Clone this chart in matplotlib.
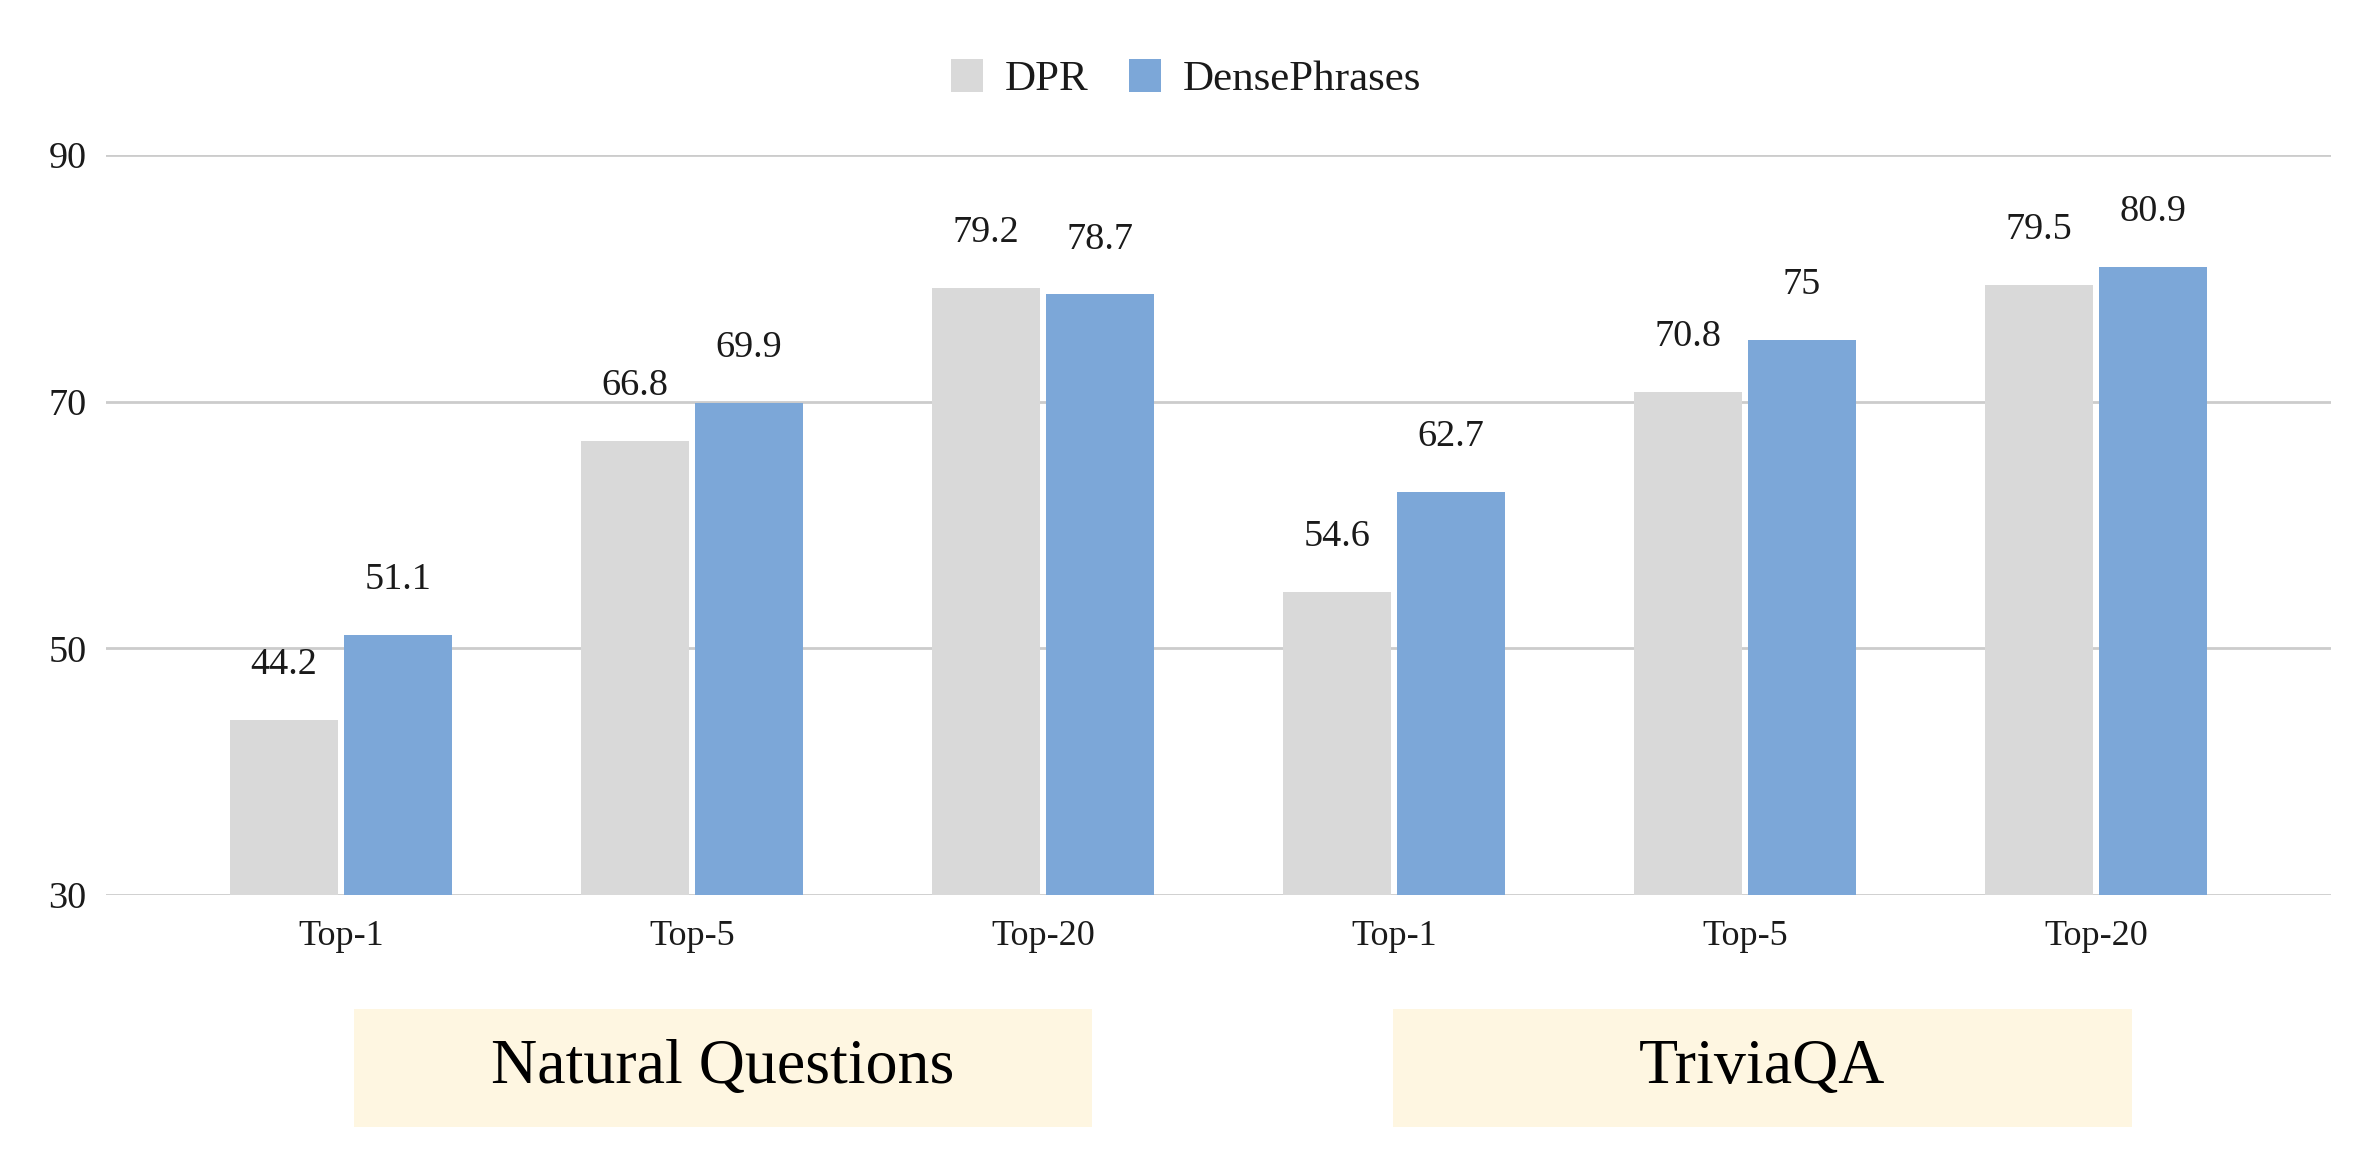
import matplotlib
matplotlib.use("Agg")
import matplotlib.pyplot as plt
from matplotlib.patches import Rectangle, Patch
import numpy as np

categories = ["Top-1", "Top-5", "Top-20", "Top-1", "Top-5", "Top-20"]
dpr = [44.2, 66.8, 79.2, 54.6, 70.8, 79.5]
densephrases = [51.1, 69.9, 78.7, 62.7, 75, 80.9]
series_names = ["DPR", "DensePhrases"]
dataset_names = ["Natural Questions", "TriviaQA"]
yticks = [30, 50, 70, 90]

plt.rcParams['font.family'] = ['Liberation Serif', 'DejaVu Serif']
c_dpr = "#D9D9D9"
c_dp = "#7CA7D8"
txt = "#1a1a1a"

fig = plt.figure(figsize=(23.72, 11.68), dpi=100)
ax = fig.add_axes([106/2372, 1-895/1168, (2331-106)/2372, (895-155)/1168])

x = np.arange(len(categories))
w = 0.308
off = 0.1625
b1 = ax.bar(x - off, dpr, width=w, color=c_dpr, zorder=3)
b2 = ax.bar(x + off, densephrases, width=w, color=c_dp, zorder=3)

for bars, vals in ((b1, dpr), (b2, densephrases)):
    for rect, v in zip(bars, vals):
        ax.annotate(f"{v:g}", (rect.get_x() + rect.get_width()/2, v),
                    xytext=(0, 33), textcoords="offset points",
                    ha="center", va="baseline", fontsize=27.5, color=txt)

ax.set_xlim(-0.67, 5.67)
ax.set_ylim(30, 90)
ax.set_yticks(yticks)
ax.set_xticks(x)
ax.set_xticklabels(categories)
ax.tick_params(axis='x', length=0, labelsize=26, colors=txt, pad=18)
ax.tick_params(axis='y', length=0, labelsize=27.5, colors=txt, pad=14)
ax.yaxis.grid(True, color="#CCCCCC", linewidth=2, zorder=0)
for s in ax.spines.values():
    s.set_visible(False)

handles = [Patch(facecolor=c_dpr, label=series_names[0]),
           Patch(facecolor=c_dp, label=series_names[1])]
fig.legend(handles=handles, loc="center", bbox_to_anchor=(0.5, 1-79/1168),
           ncol=2, frameon=False, fontsize=31, handlelength=0.75, handleheight=0.8,
           handletextpad=0.5, columnspacing=0.95, labelcolor=txt)

boxes = [(354, 1092), (1393, 2132)]
for (l, r), name in zip(boxes, dataset_names):
    fig.patches.append(Rectangle((l/2372, 1-1127/1168), (r-l)/2372, (1127-1009)/1168,
                                 transform=fig.transFigure, facecolor="#FEF6E1",
                                 edgecolor="none"))
    fig.text((l+r)/2/2372, 1-1068/1168, name, ha="center", va="center",
             fontsize=46, color="black")

fig.savefig("out.png", dpi=100, facecolor="white")
